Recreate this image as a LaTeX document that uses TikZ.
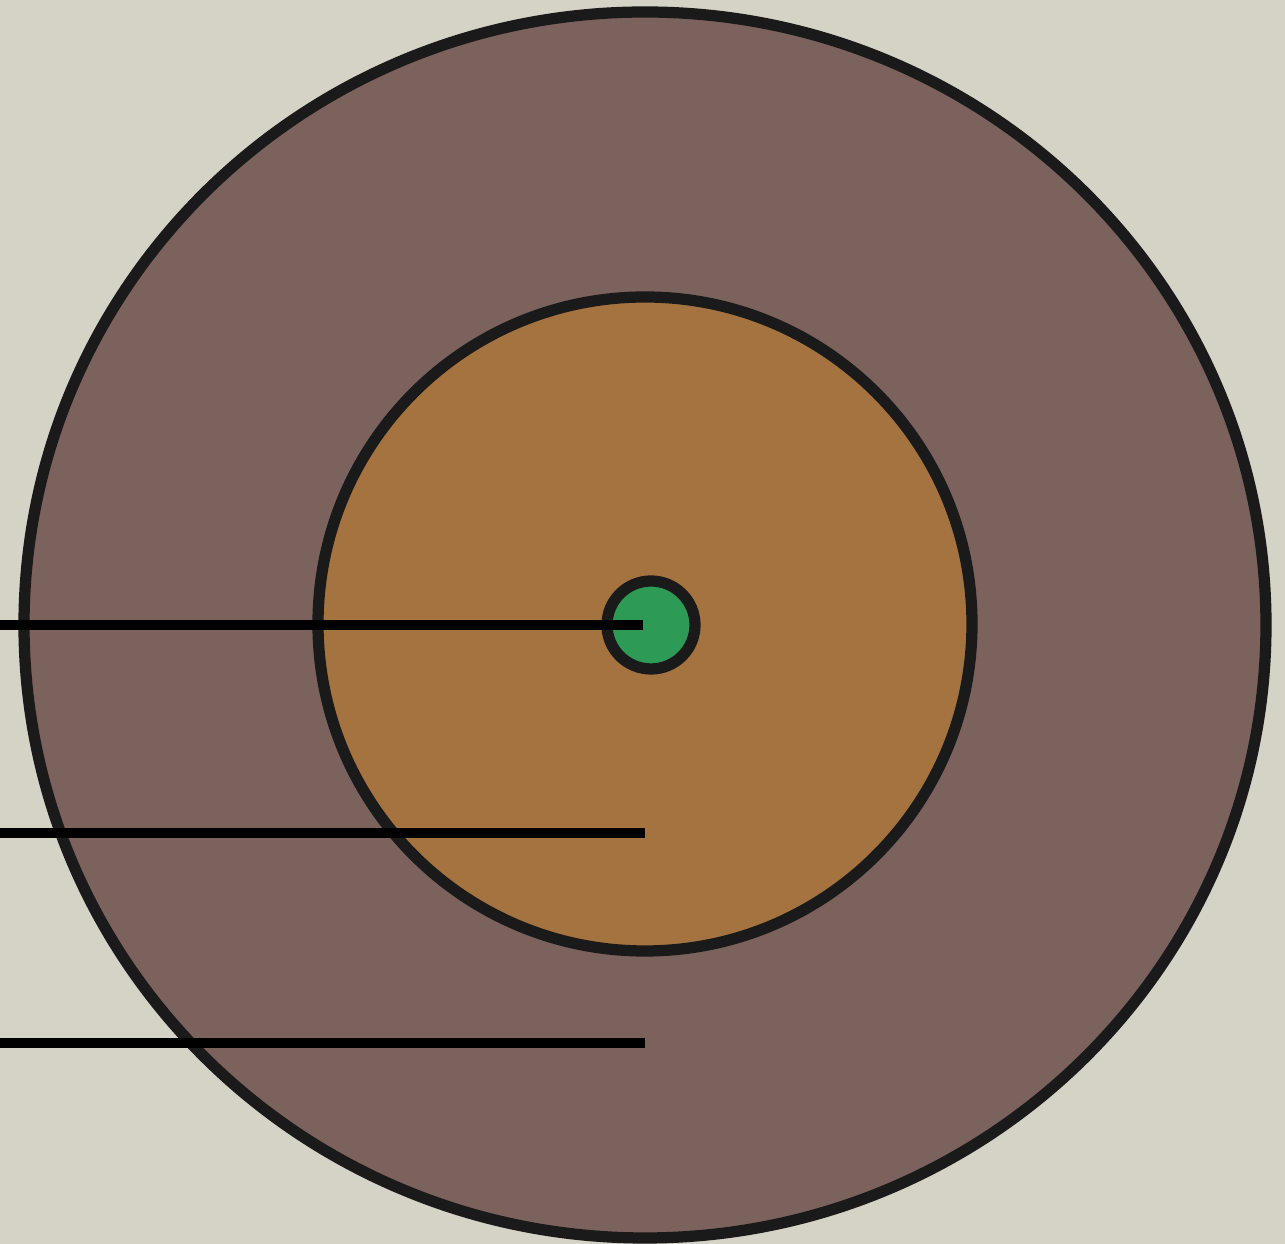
\documentclass[tikz,border=0pt]{standalone}
\definecolor{paper}{HTML}{D5D2C6}
\definecolor{mantle}{HTML}{7C625D}
\definecolor{outercore}{HTML}{A5733F}
\definecolor{innercore}{HTML}{2D9A55}
\definecolor{rim}{HTML}{1A1A1A}
\begin{document}
\begin{tikzpicture}[x=0.1mm, y=-0.1mm,
    layer/.style={draw=rim, line width=3.2pt},
    leader/.style={draw=black, line width=2.7pt}]
    \fill[paper] (0,0) rectangle (1285,1244);
    \useasboundingbox (0,0) rectangle (1285,1244);
    \coordinate (centre) at (645,625);
    \filldraw[layer, fill=mantle] (centre) ellipse [x radius=621, y radius=613];
    \filldraw[layer, fill=outercore] (645,624) circle (327);
    \filldraw[layer, fill=innercore] (651,625) circle (44);
    \coordinate (innerend) at (643,625);
    \coordinate (outerend) at (645,833);
    \coordinate (mantleend) at (645,1043);
    \coordinate (innerfree) at (0,625);
    \coordinate (outerfree) at (0,833);
    \coordinate (mantlefree) at (0,1043);
    \draw[leader] (innerfree) -- (innerend);
    \draw[leader] (outerfree) -- (outerend);
    \draw[leader] (mantlefree) -- (mantleend);
\end{tikzpicture}
\end{document}
